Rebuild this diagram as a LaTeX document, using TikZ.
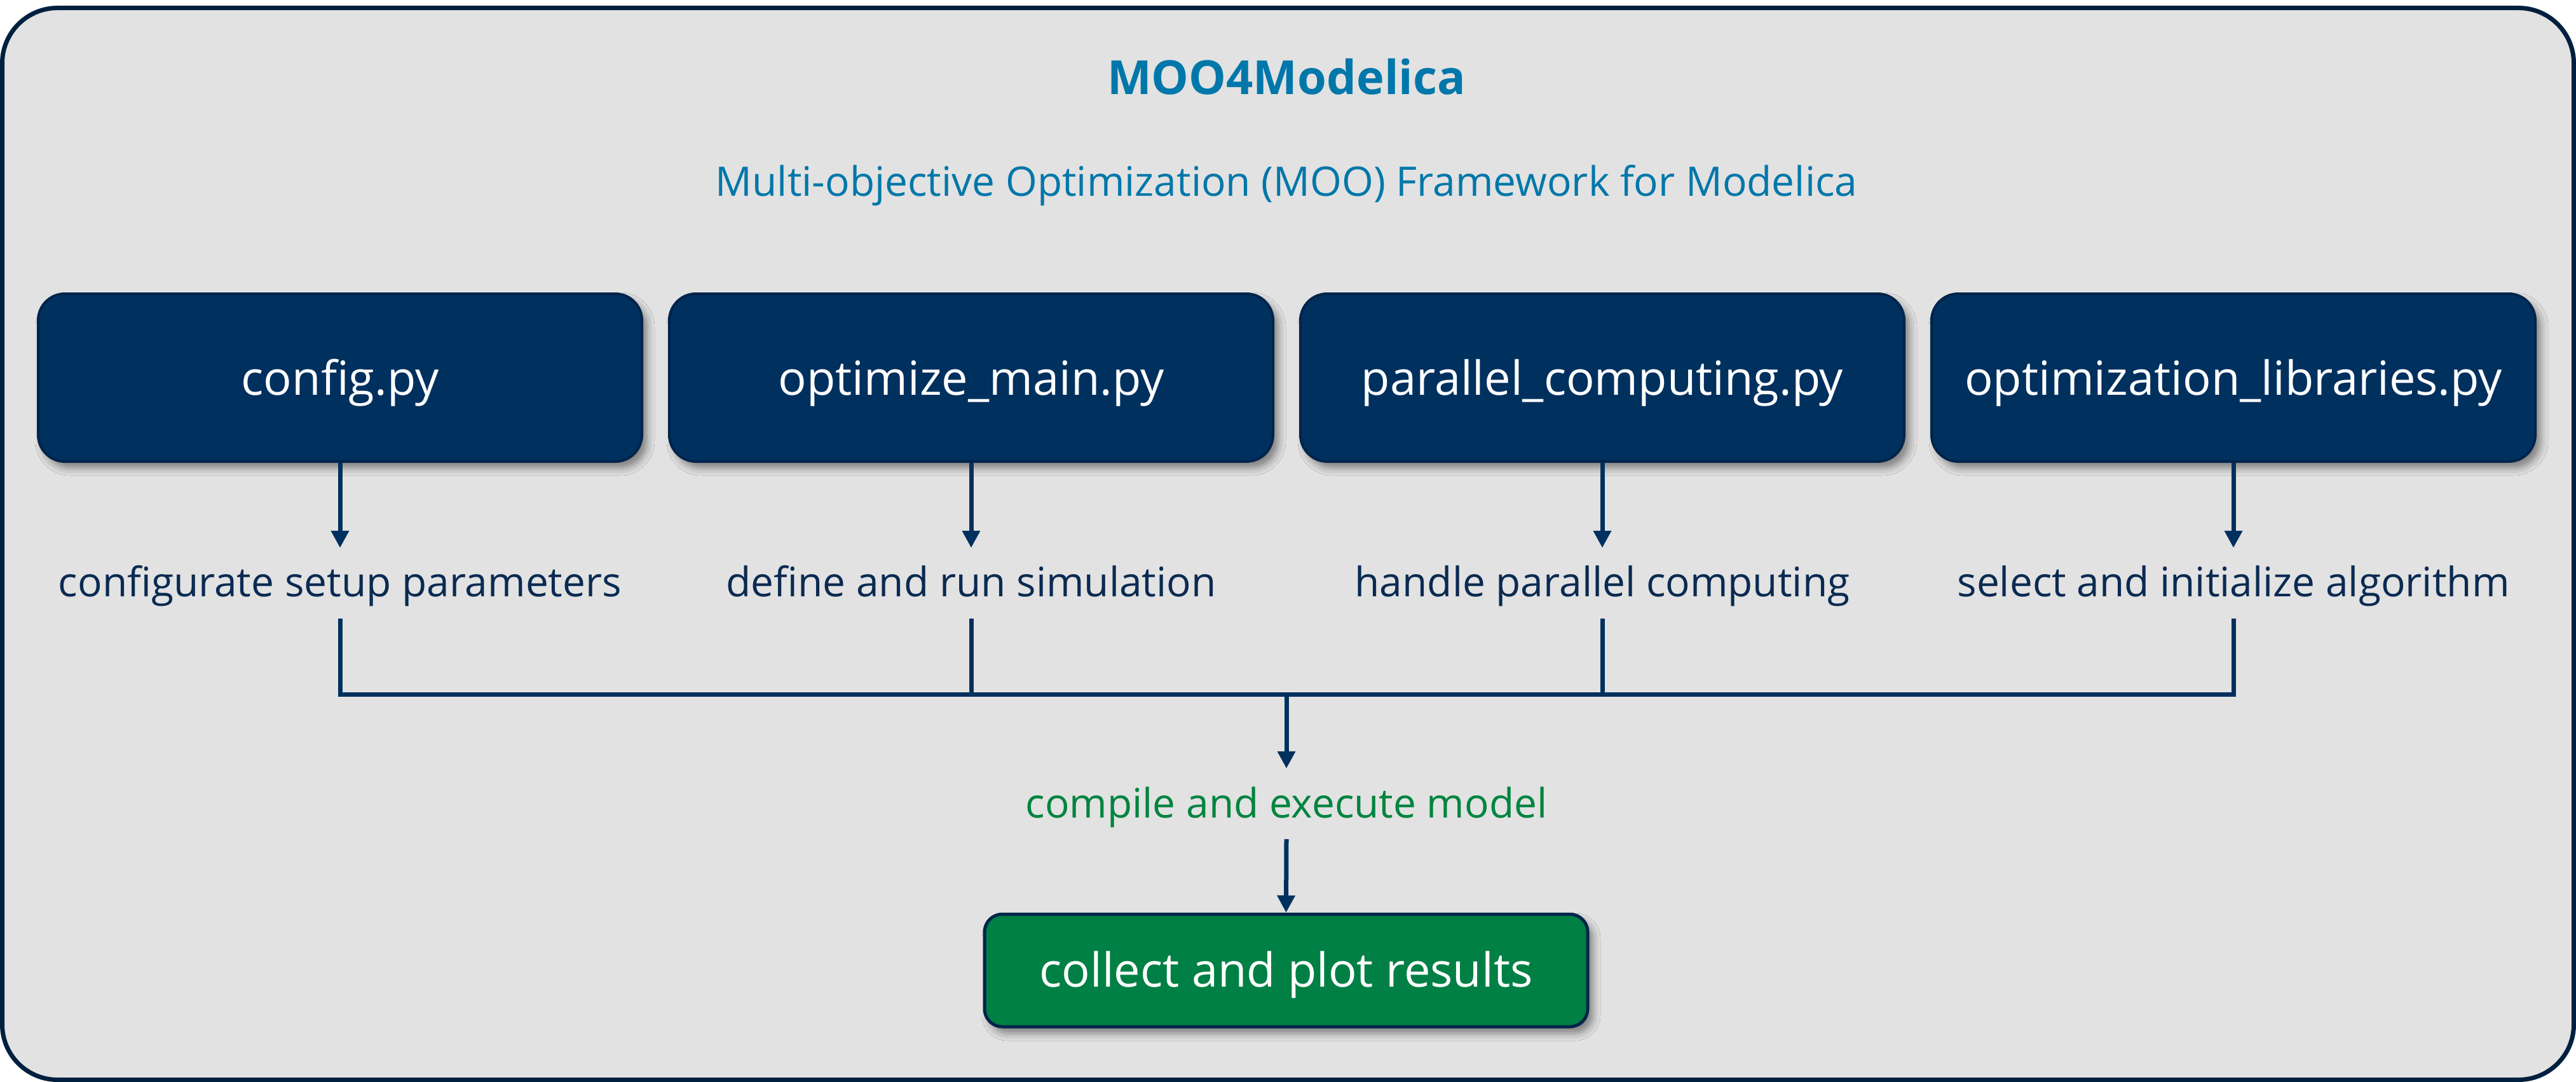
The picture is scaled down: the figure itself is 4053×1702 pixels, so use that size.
\documentclass[tikz,border=0pt]{standalone}
\usepackage{fontspec}
\setmainfont{Open Sans}
\usetikzlibrary{arrows.meta,shadows.blur}
\definecolor{bgGray}{HTML}{E2E2E2}
\definecolor{outerNavy}{HTML}{00203F}
\definecolor{boxNavy}{HTML}{00305E}
\definecolor{boxEdge}{HTML}{00244A}
\definecolor{lineNavy}{HTML}{00305E}
\definecolor{resGreen}{HTML}{008044}
\definecolor{titleBlue}{HTML}{0077AA}
\definecolor{labNavy}{HTML}{0A2A52}
\definecolor{labGreen}{HTML}{00843F}
\tikzset{
  bigfont/.style={font=\fontsize{74pt}{88pt}\selectfont},
  smallfont/.style={font=\fontsize{64pt}{76pt}\selectfont},
  filebox/.style={draw=boxEdge, line width=4pt, fill=boxNavy, text=white,
    rounded corners=42pt, minimum width=950pt, minimum height=264pt,
    inner sep=0pt, text height=60pt, text depth=6pt, bigfont,
    blur shadow={shadow xshift=8pt, shadow yshift=-10pt, shadow blur radius=12pt, shadow opacity=45}},
  resbox/.style={draw=boxEdge, line width=5pt, fill=resGreen, text=white,
    rounded corners=28pt, minimum width=949pt, minimum height=177pt,
    inner sep=0pt, text height=57pt, text depth=6pt, bigfont,
    blur shadow={shadow xshift=8pt, shadow yshift=-10pt, shadow blur radius=12pt, shadow opacity=45}},
  steplabel/.style={anchor=base, smallfont, text=labNavy, inner sep=0pt,
    text height=76pt, text depth=35pt},
  conn/.style={draw=lineNavy, line width=7pt},
  arrowconn/.style={conn, -{Triangle[width=27pt,length=27pt]}},
}
\begin{document}
\begin{tikzpicture}[x=1pt,y=-1pt]
\fill[white] (0,0) rectangle (4053,1702);
\useasboundingbox (0,0) rectangle (4053,1702);
\draw[outerNavy, line width=7pt, fill=bgGray, rounded corners=87pt] (3.5,12.5) rectangle (4049.5,1698.5);

\node[anchor=base, text=titleBlue, font=\fontsize{74pt}{88pt}\selectfont\bfseries] (title) at (2024,148) {MOO4Modelica};
\node[anchor=base, text=titleBlue, smallfont] (subtitle) at (2024,308) {Multi-objective Optimization (MOO) Framework for Modelica};

\node[filebox] (b1) at (535,594) {config.py};
\node[filebox] (b2) at (1528,594) {optimize\_main.py};
\node[filebox] (b3) at (2521,594) {parallel\_computing.py};
\node[filebox] (b4) at (3514,594) {optimization\_libraries.py};

\node[steplabel] (l1) at (535,938) {configurate setup parameters};
\node[steplabel] (l2) at (1528,938) {define and run simulation};
\node[steplabel] (l3) at (2521,938) {handle parallel computing};
\node[steplabel] (l4) at (3514,938) {select and initialize algorithm};

\foreach \i in {1,2,3,4} {\draw[arrowconn] (b\i.south) -- (l\i.north);}

\coordinate (bus) at (2024,1092);
\draw[conn] (l1.south) |- (l4.south |- bus) -- (l4.south);
\draw[conn] (l2.south) -- (l2.south |- bus);
\draw[conn] (l3.south) -- (l3.south |- bus);

\node[steplabel, text=labGreen, text height=77pt, text depth=34pt] (compile) at (2024,1286) {compile and execute model};
\node[resbox] (res) at (2023.5,1526.5) {collect and plot results};

\draw[arrowconn] (bus) -- (compile.north);
\draw[arrowconn] (compile.south) -- (res.north);
\end{tikzpicture}
\end{document}
